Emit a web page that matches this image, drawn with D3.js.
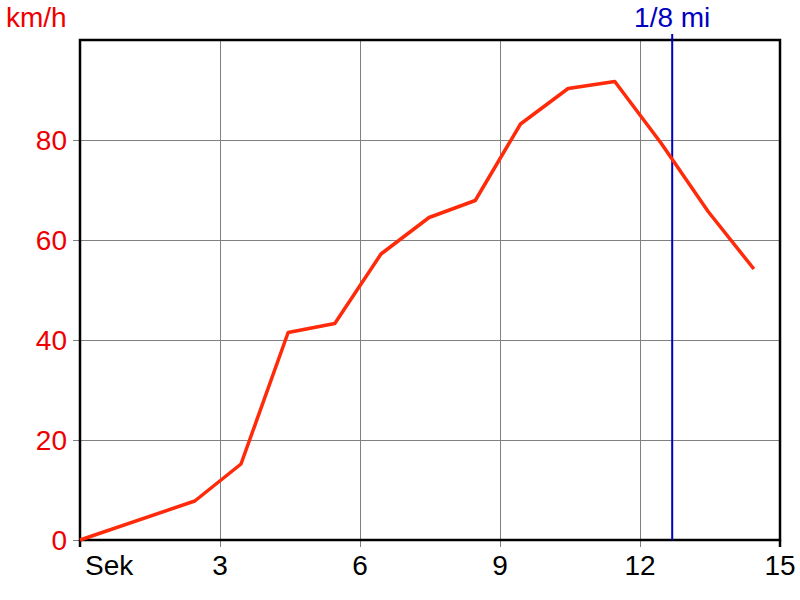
<!DOCTYPE html>
<html><head><meta charset="utf-8">
<script src="https://cdn.jsdelivr.net/npm/d3@7"></script>
<style>body{margin:0;background:#fff}svg{display:block}text{font-family:"Liberation Sans",Arial,sans-serif}</style>
</head><body>
<svg id="c" width="800" height="600"></svg>
<script>
const times = [0, 2.46, 3.45, 4.46, 5.46, 6.45, 7.48, 8.47, 9.44, 10.46, 11.46, 12.45, 13.46, 14.44];
const speeds = [0, 7.8, 15.2, 41.5, 43.3, 57.2, 64.5, 67.9, 83.2, 90.3, 91.7, 79.4, 65.7, 54.2];
const xTicks = [3, 6, 9, 12, 15];
const yTicks = [0, 20, 40, 60, 80];
const markerTime = [12.69];
const markerLabel = ["1/8 mi"];
const xUnit = "Sek", yUnit = "km/h";

const svg = d3.select("#c");
const L = 80, R = 780, T = 40, B = 540;
const x = d3.scaleLinear().domain([0, 15]).range([L, R]);
const y = d3.scaleLinear().domain([0, 100]).range([B, T]);
const fs = 28;

// grid
svg.append("g").selectAll("line").data(xTicks).join("line")
  .attr("x1", d => x(d)).attr("x2", d => x(d)).attr("y1", T).attr("y2", B + 7)
  .attr("stroke", "#808080").attr("stroke-width", 1).attr("shape-rendering", "crispEdges");
svg.append("g").selectAll("line").data(yTicks).join("line")
  .attr("x1", L - 7).attr("x2", R).attr("y1", d => y(d)).attr("y2", d => y(d))
  .attr("stroke", "#808080").attr("stroke-width", 1).attr("shape-rendering", "crispEdges");

// frame
svg.append("rect").attr("x", L).attr("y", T).attr("width", R - L).attr("height", B - T)
  .attr("fill", "none").attr("stroke", "#000").attr("stroke-width", 2.5);
svg.append("line").attr("x1", L).attr("x2", L).attr("y1", B).attr("y2", B + 7).attr("stroke", "#000").attr("stroke-width", 2.5);
svg.append("line").attr("x1", R).attr("x2", R).attr("y1", B).attr("y2", B + 7).attr("stroke", "#000").attr("stroke-width", 2.5);

// tick labels
svg.append("g").selectAll("text").data(xTicks).join("text")
  .attr("x", d => x(d)).attr("y", 575).attr("text-anchor", "middle")
  .attr("font-size", fs).attr("fill", "#000").text(d => d);
svg.append("text").attr("x", 85).attr("y", 575).attr("font-size", fs).attr("fill", "#000").text(xUnit);
svg.append("g").selectAll("text").data(yTicks).join("text")
  .attr("x", 67).attr("y", d => y(d) + 10).attr("text-anchor", "end")
  .attr("font-size", fs).attr("fill", "#ee0000").text(d => d);
svg.append("text").attr("x", 6).attr("y", 27).attr("font-size", fs).attr("fill", "#ee0000").text(yUnit);

// marker
svg.append("g").selectAll("line").data(markerTime).join("line")
  .attr("x1", d => x(d)).attr("x2", d => x(d)).attr("y1", 34).attr("y2", B)
  .attr("stroke", "#0000c0").attr("stroke-width", 2);
svg.append("g").selectAll("text").data(markerTime).join("text")
  .attr("x", d => x(d)).attr("y", 27).attr("text-anchor", "middle")
  .attr("font-size", fs).attr("fill", "#0000c0").text((d, i) => markerLabel[i]);

// line
const data = times.map((t, i) => [t, speeds[i]]);
svg.append("path").datum(data)
  .attr("d", d3.line().x(d => x(d[0])).y(d => y(d[1])))
  .attr("fill", "none").attr("stroke", "#ff2a0a").attr("stroke-width", 3.5)
  .attr("stroke-linejoin", "round");
</script>
</body></html>
